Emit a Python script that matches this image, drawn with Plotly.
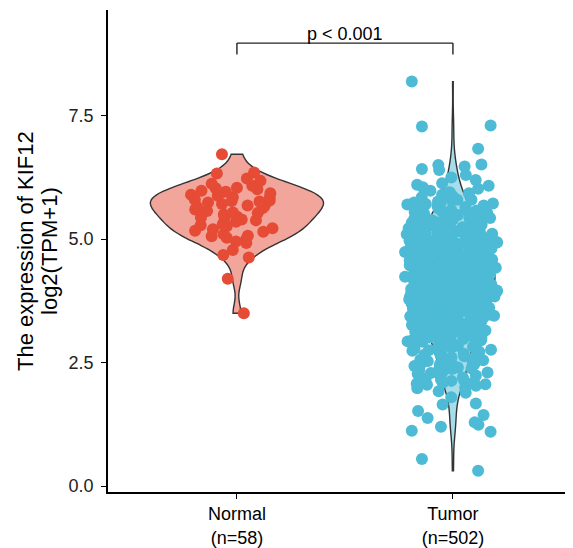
import numpy as np
import plotly.graph_objects as go

# ---------------- data ----------------
groups = ["Normal", "Tumor"]

normal = [6.72, 6.35, 6.33, 6.23, 6.18, 6.12, 6.08, 6.04, 6.03, 6.01, 5.98, 5.96,
          5.93, 5.91, 5.88, 5.85, 5.84, 5.80, 5.78, 5.77, 5.76, 5.74, 5.71, 5.68,
          5.67, 5.65, 5.63, 5.60, 5.57, 5.54, 5.53, 5.50, 5.46, 5.44, 5.43, 5.40,
          5.38, 5.35, 5.30, 5.28, 5.26, 5.22, 5.20, 5.17, 5.15, 5.10, 5.07, 5.06,
          5.03, 4.99, 4.95, 4.92, 4.78, 4.68, 4.63, 4.20, 3.50, 5.90]

# Tumor values, split by value range
tumor_0_1 = [0.31, 0.55, 1.10, 1.12, 1.20, 1.24]
tumor_1_2 = [1.29, 1.38, 1.44, 1.52, 1.65, 1.67, 1.80, 1.89, 1.92, 1.98, 1.99]
tumor_2_25 = [2.03, 2.05, 2.06, 2.07, 2.09, 2.10, 2.13, 2.14, 2.15, 2.18, 2.20, 2.22,
              2.24, 2.27, 2.29, 2.30, 2.33, 2.35, 2.37, 2.38, 2.40, 2.42, 2.43, 2.45,
              2.46, 2.47, 2.48, 2.49, 2.36]
tumor_25_3 = [2.51, 2.53, 2.55, 2.56, 2.58, 2.60, 2.61, 2.63, 2.65, 2.66, 2.68, 2.70,
              2.72, 2.74, 2.75, 2.76, 2.77, 2.78, 2.80, 2.81, 2.82, 2.84, 2.85, 2.86,
              2.88, 2.89, 2.90, 2.91, 2.92, 2.93, 2.94, 2.95, 2.96, 2.98, 2.99]
tumor_3_35 = [3.00, 3.01, 3.01, 3.03, 3.04, 3.04, 3.06, 3.07, 3.08, 3.08, 3.10, 3.11,
              3.12, 3.12, 3.14, 3.15, 3.16, 3.17, 3.17, 3.19, 3.20, 3.21, 3.21, 3.22,
              3.23, 3.24, 3.24, 3.25, 3.25, 3.26, 3.27, 3.27, 3.28, 3.29, 3.30, 3.31,
              3.31, 3.32, 3.33, 3.34, 3.35, 3.35, 3.36, 3.37, 3.38, 3.38, 3.39, 3.40,
              3.41, 3.42, 3.42, 3.43, 3.44, 3.45, 3.45, 3.46, 3.47, 3.47, 3.48, 3.49,
              3.49]
tumor_35_4 = [3.50, 3.51, 3.51, 3.52, 3.53, 3.53, 3.54, 3.55, 3.56, 3.56, 3.57, 3.58,
              3.58, 3.59, 3.60, 3.61, 3.61, 3.62, 3.63, 3.63, 3.64, 3.65, 3.66, 3.66,
              3.67, 3.68, 3.68, 3.69, 3.70, 3.70, 3.71, 3.72, 3.72, 3.73, 3.74, 3.74,
              3.74, 3.73, 3.75, 3.75, 3.76, 3.77, 3.77, 3.78, 3.78, 3.79, 3.80, 3.80,
              3.81, 3.81, 3.82, 3.83, 3.83, 3.84, 3.84, 3.85, 3.86, 3.86, 3.87, 3.87,
              3.88, 3.89, 3.89, 3.90, 3.90, 3.91, 3.92, 3.92, 3.93, 3.93, 3.94, 3.95,
              3.95, 3.96, 3.96, 3.97, 3.98, 3.98, 3.99, 3.99]
tumor_4_45 = [4.00, 4.00, 4.01, 4.01, 4.02, 4.03, 4.03, 4.04, 4.04, 4.05, 4.06, 4.06,
              4.07, 4.07, 4.08, 4.08, 4.09, 4.10, 4.10, 4.11, 4.11, 4.12, 4.12, 4.13,
              4.14, 4.14, 4.15, 4.15, 4.16, 4.17, 4.17, 4.18, 4.18, 4.19, 4.20, 4.20,
              4.21, 4.21, 4.22, 4.23, 4.23, 4.24, 4.24, 4.24, 4.22, 4.25, 4.25, 4.26,
              4.26, 4.27, 4.28, 4.28, 4.29, 4.29, 4.30, 4.31, 4.31, 4.32, 4.32, 4.33,
              4.33, 4.34, 4.35, 4.35, 4.36, 4.36, 4.37, 4.37, 4.38, 4.39, 4.39, 4.40,
              4.40, 4.41, 4.42, 4.42, 4.43, 4.43, 4.44, 4.45, 4.45, 4.46, 4.46, 4.47,
              4.48, 4.48, 4.49, 4.49, 4.47, 4.44]
tumor_45_5 = [4.50, 4.50, 4.51, 4.51, 4.52, 4.53, 4.53, 4.54, 4.54, 4.55, 4.56, 4.56,
              4.57, 4.57, 4.58, 4.59, 4.59, 4.60, 4.60, 4.61, 4.62, 4.62, 4.63, 4.63,
              4.64, 4.65, 4.65, 4.66, 4.66, 4.67, 4.68, 4.68, 4.69, 4.69, 4.70, 4.71,
              4.71, 4.72, 4.72, 4.73, 4.74, 4.74, 4.73, 4.70, 4.75, 4.75, 4.76, 4.77,
              4.77, 4.78, 4.79, 4.79, 4.80, 4.81, 4.81, 4.82, 4.83, 4.83, 4.84, 4.85,
              4.85, 4.86, 4.87, 4.87, 4.88, 4.89, 4.89, 4.90, 4.91, 4.91, 4.92, 4.93,
              4.93, 4.94, 4.95, 4.95, 4.96, 4.97, 4.97, 4.98, 4.99, 4.99, 4.96, 4.90]
tumor_5_55 = [5.00, 5.01, 5.01, 5.02, 5.03, 5.04, 5.04, 5.05, 5.06, 5.07, 5.07, 5.08,
              5.09, 5.10, 5.10, 5.11, 5.12, 5.13, 5.13, 5.14, 5.15, 5.16, 5.16, 5.17,
              5.18, 5.19, 5.19, 5.20, 5.21, 5.22, 5.22, 5.23, 5.24, 5.24, 5.25, 5.26,
              5.27, 5.28, 5.29, 5.30, 5.31, 5.32, 5.33, 5.34, 5.35, 5.36, 5.37, 5.38,
              5.39, 5.40, 5.41, 5.42, 5.43, 5.44, 5.45, 5.46, 5.47, 5.48, 5.49, 5.33]
tumor_55_6 = [5.50, 5.52, 5.53, 5.55, 5.56, 5.58, 5.59, 5.61, 5.62, 5.64, 5.65, 5.67,
              5.68, 5.70, 5.71, 5.72, 5.73, 5.74, 5.76, 5.78, 5.80, 5.80, 5.83, 5.85,
              5.87, 5.90, 5.93, 5.95, 5.98]
tumor_6_65 = [6.02, 6.05, 6.08, 6.10, 6.13, 6.20, 6.25, 6.30, 6.40, 6.42, 6.47, 6.50,
              6.51]
tumor_65_9 = [6.83, 7.28, 7.30, 8.19]

tumor_parts = [tumor_0_1, tumor_1_2, tumor_2_25, tumor_25_3, tumor_3_35, tumor_35_4,
               tumor_4_45, tumor_45_5, tumor_5_55, tumor_55_6, tumor_6_65, tumor_65_9]
tumor = [v for part in tumor_parts for v in part]

tick_labels = [f"Normal<br>(n={len(normal)})", f"Tumor<br>(n={len(tumor)})"]
y_ticks = [0.0, 2.5, 5.0, 7.5]
y_title_lines = ["The expression of KIF12", "log2(TPM+1)"]
p_label = "p < 0.001"

# ---------------- styles ----------------
point_colors = ["#E64B35", "#4DBBD5"]
fill_colors = ["#F2A59A", "#A6DDEA"]
violin_widths = [0.80, 0.39]
FONT = "Liberation Sans, Arial, sans-serif"


def nrd0(v):
    v = np.asarray(v, dtype=float)
    sd = v.std(ddof=1)
    q75, q25 = np.percentile(v, [75, 25])
    lo = min(sd, (q75 - q25) / 1.34)
    return 0.9 * lo * len(v) ** -0.2


fig = go.Figure()
series = [normal, tumor]

# violin bodies
for g, vals, fc, w in zip(groups, series, fill_colors, violin_widths):
    fig.add_trace(go.Violin(
        x=[g] * len(vals), y=vals, points=False, spanmode="hard",
        scalemode="width", width=w, bandwidth=nrd0(vals),
        fillcolor=fc, line=dict(color="#333333", width=1.4),
        showlegend=False, hoveron="violins", box_visible=False, meanline_visible=False,
    ))

# jittered points (plotly's own violin point jitter)
point_sets = [("Normal", normal, point_colors[0], 0.95)] + \
             [("Tumor", part, point_colors[1], 0.9) for part in tumor_parts]
for g, vals, pc, jit in point_sets:
    fig.add_trace(go.Violin(
        x=[g] * len(vals), y=vals, points="all", jitter=jit, pointpos=0,
        width=0.5, spanmode="hard",
        fillcolor="rgba(0,0,0,0)", line=dict(color="rgba(0,0,0,0)", width=0),
        marker=dict(color=pc, size=12, line=dict(width=0)),
        showlegend=False, hoveron="points",
    ))

bracket_y = 8.97
bracket_drop = 0.23
line_style = dict(color="#222222", width=1.4)
fig.add_shape(type="line", x0=0, x1=1, y0=bracket_y, y1=bracket_y, xref="x", yref="y", line=line_style)
fig.add_shape(type="line", x0=0, x1=0, y0=bracket_y, y1=bracket_y - bracket_drop, xref="x", yref="y", line=line_style)
fig.add_shape(type="line", x0=1, x1=1, y0=bracket_y, y1=bracket_y - bracket_drop, xref="x", yref="y", line=line_style)
fig.add_annotation(x=0.5, y=bracket_y, xref="x", yref="y", text=p_label, showarrow=False,
                   yanchor="bottom", yshift=-3, font=dict(size=18, color="black", family=FONT))

# two-line y-axis title
for txt, px in zip(y_title_lines, [-0.1785, -0.1269]):
    fig.add_annotation(x=px, y=0.5, xref="paper", yref="paper", text=txt, showarrow=False,
                       textangle=-90, xanchor="center", yanchor="middle",
                       font=dict(size=22, color="black", family=FONT))

fig.update_layout(
    width=565, height=540,
    margin=dict(l=100, r=0, t=2, b=54),
    paper_bgcolor="white", plot_bgcolor="white",
    violinmode="overlay",
    font=dict(family=FONT, color="black", size=18),
)
fig.update_xaxes(
    type="category", categoryorder="array", categoryarray=groups,
    tickvals=groups, ticktext=tick_labels,
    range=[-0.597, 1.556],
    showline=True, linecolor="black", linewidth=1.5,
    ticks="outside", ticklen=5, tickwidth=1.4, tickcolor="black",
    showgrid=False, zeroline=False,
    tickfont=dict(size=18, color="black", family=FONT),
)
fig.update_yaxes(
    range=[-0.12, 9.64],
    tickvals=y_ticks, ticktext=[f"{t:.1f}" for t in y_ticks],
    showline=True, linecolor="black", linewidth=1.5,
    ticks="outside", ticklen=5, tickwidth=1.4, tickcolor="black",
    ticklabelstandoff=4,
    showgrid=False, zeroline=False,
    tickfont=dict(size=18, color="#222222", family=FONT),
)

fig.write_html("out.html")
